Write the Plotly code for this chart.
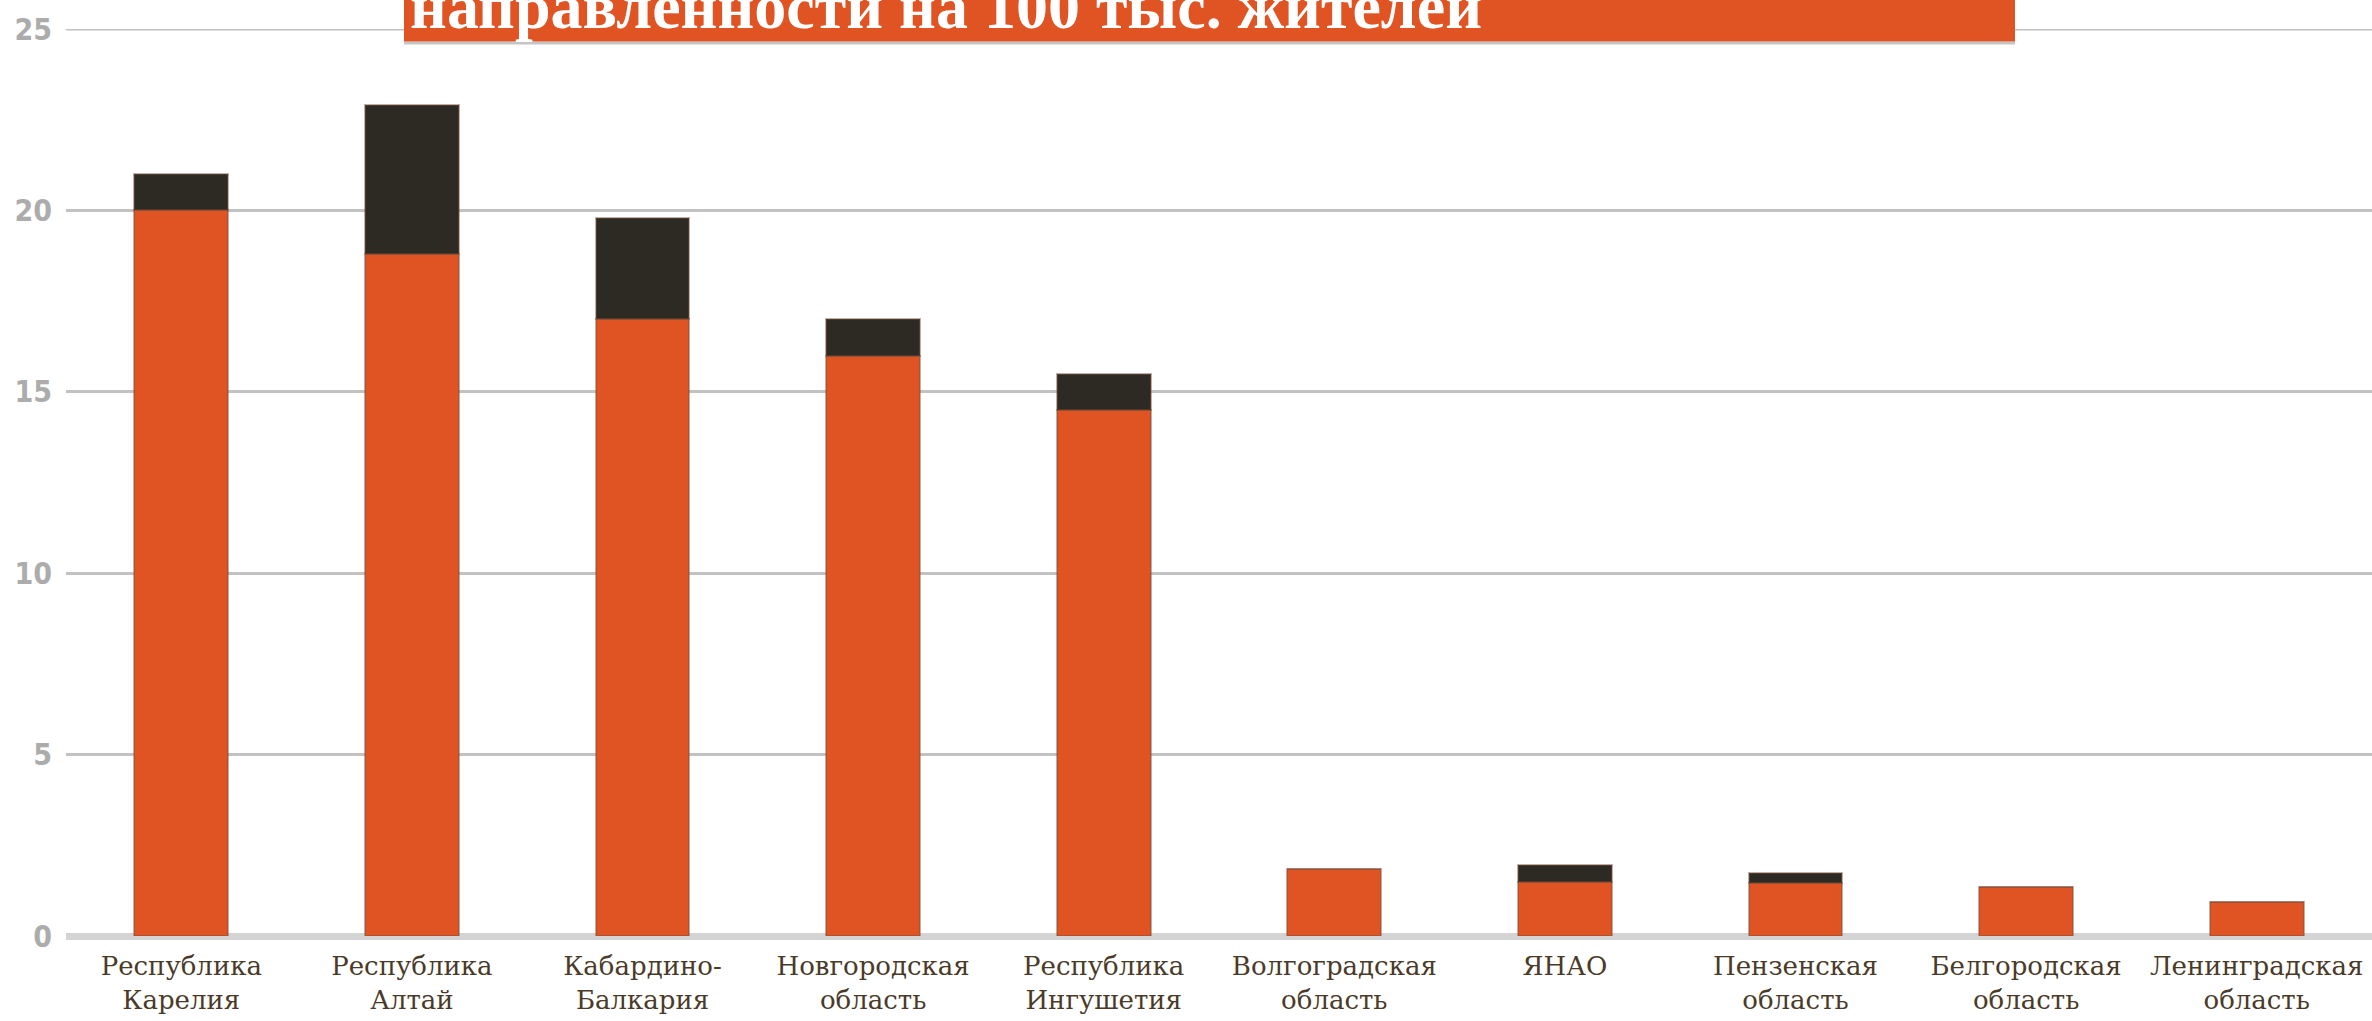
import plotly.graph_objects as go

regions = [
    "Республика<br>Карелия", "Республика<br>Алтай", "Кабардино-<br>Балкария",
    "Новгородская<br>область", "Республика<br>Ингушетия", "Волгоградская<br>область",
    "ЯНАО", "Пензенская<br>область", "Белгородская<br>область", "Ленинградская<br>область",
]
orange_vals = [20.0, 18.8, 17.0, 16.0, 14.5, 1.85, 1.5, 1.45, 1.35, 0.95]
dark_vals = [1.0, 4.1, 2.8, 1.0, 1.0, 0.0, 0.45, 0.3, 0.0, 0.0]
y_ticks = [0, 5, 10, 15, 20, 25]
title_text = "направленности на 100 тыс. жителей"

W, H = 2372, 1021
ML, MR, MT, MB = 66, 0, 29, 85
PW, PH = W - ML - MR, H - MT - MB

def px_x(p):
    return (p - ML) / PW

def px_y(p):
    return (H - MB - p) / PH

fig = go.Figure()
fig.add_trace(go.Bar(
    x=regions, y=orange_vals, name="Показатель 1",
    marker=dict(color="#E05322", line=dict(color="rgba(120,80,60,0.45)", width=2)),
))
fig.add_trace(go.Bar(
    x=regions, y=dark_vals, name="Показатель 2",
    marker=dict(color="#2C2A22", line=dict(color="rgba(120,80,60,0.45)", width=2)),
))

fig.update_layout(
    barmode="stack",
    bargap=0.593,
    width=W, height=H,
    margin=dict(l=ML, r=MR, t=MT, b=MB, pad=0),
    paper_bgcolor="white", plot_bgcolor="white",
    showlegend=False,
    xaxis=dict(
        tickfont=dict(family="DejaVu Serif", size=26, color="#4a3a28"),
        showgrid=False, showline=False, ticks="", ticklabelstandoff=12,
    ),
    yaxis=dict(
        range=[0, 25], tickvals=y_ticks,
        tickfont=dict(family="DejaVu Sans Condensed, DejaVu Sans", size=30, color="#acacac", weight="bold"),
        showgrid=True, gridcolor="#c2c2c2", gridwidth=3,
        zeroline=True, zerolinecolor="#d4d4d4", zerolinewidth=7,
        showline=False, ticks="", ticklabelstandoff=13,
    ),
)

# top gridline at 25 (at the very edge of the plot area)
fig.add_shape(type="line", xref="paper", yref="y", x0=0, x1=1, y0=25, y1=25,
              line=dict(color="#c2c2c2", width=3), layer="below")

# title banner (partly cut off at the top of the page)
fig.add_shape(type="rect", xref="paper", yref="paper",
              x0=px_x(404), x1=px_x(2015), y0=px_y(44.5), y1=px_y(41.5),
              fillcolor="rgba(140,140,140,0.5)", line=dict(width=0), layer="above")
fig.add_shape(type="rect", xref="paper", yref="paper",
              x0=px_x(404), x1=px_x(2015), y0=px_y(41.5), y1=px_y(-20),
              fillcolor="#E05322", line=dict(width=0), layer="above")
fig.add_annotation(
    text=title_text, xref="paper", yref="paper",
    x=px_x(408), y=px_y(44), xanchor="left", yanchor="bottom",
    showarrow=False,
    font=dict(family="Liberation Serif", size=64, color="white", weight="bold"),
)

fig.write_html(
    "out.html",
    config={"displayModeBar": False},
    post_script="document.body.style.margin='0';document.body.style.overflow='hidden';",
)
